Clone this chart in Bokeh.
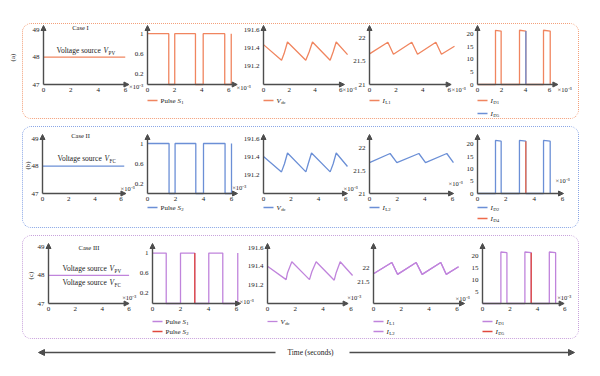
import math
from bokeh.plotting import figure
from bokeh.models import Label, Arrow, NormalHead, FixedTicker, Range1d, Row, Column
from bokeh.embed import file_html
from bokeh.resources import INLINE

# ---------------- values (time in units of 1e-3 s) ----------------
time_ticks = [0, 2, 4, 6]

# Case I
c1_src_t = [0.0, 5.98]
c1_src_v = [48.0, 48.0]
c1_s1_t = [0.0, 1.57, 1.57, 2.01, 2.01, 3.54, 3.54, 4.11, 4.11, 5.70, 5.70, 6.18, 6.18]
c1_s1_v = [1, 1, 0, 0, 1, 1, 0, 0, 1, 1, 0, 0, 1]
c1_vdc_t = [0.0, 1.40, 1.60, 1.86, 3.28, 3.54, 3.80, 5.17, 5.40, 5.64, 6.52]
c1_vdc_v = [191.436, 191.265, 191.338, 191.465, 191.265, 191.356, 191.465, 191.265, 191.356, 191.465, 191.327]
c1_il1_t = [0.0, 1.38, 1.80, 3.18, 3.61, 4.99, 5.41, 6.39]
c1_il1_v = [21.664, 21.918, 21.657, 21.918, 21.657, 21.918, 21.657, 21.830]
c1_id1_t = [0.0, 1.50, 1.50, 1.97, 1.97, 3.50, 3.50, 4.03, 4.03, 5.50, 5.50, 6.06, 6.06]
c1_id1_v = [0, 0, 21.6, 21.3, 0, 0, 21.6, 21.3, 0, 0, 21.6, 21.3, 0]
c1_id5_t = [4.03, 4.03]
c1_id5_v = [21.3, 0]

# Case II
c2_src_t = [0.0, 6.24]
c2_src_v = [48.0, 48.0]
c2_s2_t = [0.0, 1.54, 1.54, 1.97, 1.97, 3.45, 3.45, 4.00, 4.00, 5.54, 5.54, 6.00, 6.00]
c2_s2_v = [1, 1, 0, 0, 1, 1, 0, 0, 1, 1, 0, 0, 1]
c2_vdc_t = [0.0, 1.31, 1.53, 1.75, 3.09, 3.26, 3.50, 4.86, 5.08, 5.30, 6.12]
c2_vdc_v = [191.41, 191.24, 191.33, 191.45, 191.24, 191.33, 191.45, 191.24, 191.33, 191.45, 191.30]
c2_il2_t = [0.0, 1.49, 1.98, 3.57, 4.05, 5.59, 6.07]
c2_il2_v = [21.687, 21.888, 21.687, 21.888, 21.687, 21.888, 21.687]
c2_id2_t = [0.0, 1.27, 1.27, 1.67, 1.67, 2.96, 2.96, 3.41, 3.41, 4.66, 4.66, 5.13, 5.13]
c2_id2_v = [0, 0, 21.6, 21.3, 0, 0, 21.6, 21.3, 0, 0, 21.6, 21.3, 0]
c2_id4_t = [3.41, 3.41]
c2_id4_v = [21.3, 0]

# Case III
c3_src_t = [0.0, 6.0]
c3_src_v = [48.0, 48.0]
c3_s1_t = [0.0, 0.98, 0.98, 2.00, 2.00, 3.02, 3.02, 4.02, 4.02, 5.02, 5.02, 6.09, 6.09]
c3_s1_v = [1, 1, 0, 0, 1, 1, 0, 0, 1, 1, 0, 0, 1]
c3_s2_t = [3.02, 3.02]
c3_s2_v = [1, 0]
c3_vdc_t = [0.0, 1.34, 1.44, 1.75, 3.02, 3.19, 3.50, 4.80, 4.94, 5.23, 6.12]
c3_vdc_v = [191.40, 191.256, 191.33, 191.447, 191.256, 191.34, 191.447, 191.25, 191.33, 191.447, 191.30]
c3_il1_t = [0.0, 1.32, 1.73, 3.07, 3.50, 4.84, 5.23, 6.12]
c3_il1_v = [21.81, 22.21, 21.79, 22.21, 21.79, 22.21, 21.79, 22.06]
c3_il2_t = [0.0, 1.32, 1.73, 3.07, 3.50, 4.84, 5.23, 6.12]
c3_il2_v = [21.81, 22.21, 21.79, 22.21, 21.79, 22.21, 21.79, 22.06]
c3_id1_t = [0.0, 1.34, 1.34, 1.78, 1.78, 3.09, 3.09, 3.55, 3.55, 4.87, 4.87, 5.33, 5.33]
c3_id1_v = [0, 0, 21.8, 21.5, 0, 0, 21.8, 21.5, 0, 0, 21.8, 21.5, 0]
c3_id5_t = [3.55, 3.55]
c3_id5_v = [21.5, 0]

# tick values / labels
src_ticks = [47, 48, 49]
src_labels = ["47", "48", "49"]
pulse_ticks = [0.2, 0.6, 1.0]
pulse_labels = ["0.2", "0.6", "1"]
vdc_ticks = [191.2, 191.4, 191.6]
vdc_labels = ["191.2", "191.4", "191.6"]
il_ticks = [21, 21.5, 22]
il_labels = ["21", "21.5", "22"]
il3_ticks = [21.5, 22]
il3_labels = ["21.5", "22"]
id_ticks = [0, 5, 10, 15, 20]
id_labels = ["0", "5", "10", "15", "20"]
id3_ticks = [5, 10, 15, 20]
id3_labels = ["5", "10", "15", "20"]

# ---------------- styling ----------------
SERIF = "Liberation Serif"
AX = "#4d4d4d"
TXT = "#222222"
ORANGE = "#f0855f"
BLUE = "#6b8fd6"
PURPLE = "#c084dc"
RED = "#e0483e"
ORED = "#ee6a4a"
BOX = ["#f4a07a", "#8aa6e6", "#c8a2dc"]

W_R = {' ': 250, 'P': 556, 'u': 500, 'l': 278, 's': 389, 'e': 444, 'V': 722, 'o': 500,
       't': 278, 'a': 444, 'g': 500, 'r': 333, 'c': 444, 'C': 667, 'F': 556, 'I': 333,
       'L': 611, 'D': 722, 'S': 556, 'd': 500, '.': 250, 'i': 278, 'n': 500}
W_I = {'V': 611, 'S': 500, 'I': 333}


def tw(txt, size, italic=False):
    tot = 0
    for ch in txt:
        if italic and ch in W_I:
            tot += W_I[ch]
        else:
            tot += W_R.get(ch, 500)
    return tot * size / 1000.0


# page-pixel layout of the three boxed rows (positions, not data)
ROWS = [
    dict(ctop=24, cbot=118, ftop=25, fbot=84, leg=[100, 113]),
    dict(ctop=127, cbot=227, ftop=134, fbot=193, leg=[207, 218]),
    dict(ctop=236, cbot=338, ftop=243, fbot=303, leg=[321, 331]),
]

GEOM = [
    [dict(x0=43, sx=13.67, xarr=6.25, fl=23, fr=148, mult=(128.5, 85.5)),
     dict(x0=147, sx=13.55, xarr=6.62, fl=133, fr=255, mult=(236, 87)),
     dict(x0=263, sx=12.89, xarr=6.28, fl=241, fr=361, mult=(342, 89)),
     dict(x0=369, sx=13.3, xarr=6.14, fl=351, fr=470, mult=(451, 89)),
     dict(x0=477, sx=12.0, xarr=6.7, fl=463, fr=578, mult=(557, 89))],
    [dict(x0=42, sx=13.1, xarr=6.37, fl=23, fr=139, mult=(120, 187.5)),
     dict(x0=147, sx=14.0, xarr=6.43, fl=133, fr=251, mult=(231.7, 186.7)),
     dict(x0=263, sx=13.72, xarr=6.12, fl=241, fr=362, mult=(343, 188)),
     dict(x0=369, sx=13.83, xarr=6.08, fl=351, fr=467, mult=(448, 183)),
     dict(x0=477, sx=14.17, xarr=6.07, fl=463, fr=578, mult=(555, 180))],
    [dict(x0=48, sx=13.43, xarr=6.0, fl=23, fr=141, mult=(121.7, 297)),
     dict(x0=152, sx=14.0, xarr=6.29, fl=137, fr=258, mult=(239, 300.7)),
     dict(x0=267, sx=13.9, xarr=5.8, fl=245, fr=366, mult=(346.7, 296.7)),
     dict(x0=373, sx=13.9, xarr=6.55, fl=355, fr=474, mult=(455, 298)),
     dict(x0=482, sx=13.72, xarr=5.95, fl=467, fr=578, mult=(556.7, 297))],
]

YR = [
    [(47, 49.15), (0, 1.16), (191.0, 191.645), (21, 22.28), (0, 23.5)],
    [(47, 49.15), (0, 1.18), (191.0, 191.655), (21, 22.31), (0, 24.0)],
    [(47, 49.14), (0, 1.19), (191.0, 191.643), (20.75, 22.89), (0, 25.4)],
]


class Panel:
    def __init__(self, g, r, yr, xticks, yticks, ylabels, margin_left):
        self.g, self.r = g, r
        self.W = int(round(g["fr"] - g["fl"]))
        self.H = r["cbot"] - r["ctop"]
        self.x0, self.sx = g["x0"], g["sx"]
        self.ylo, yhi = yr
        fh = r["fbot"] - r["ftop"]
        self.sy = fh / (yhi - self.ylo)
        self.fbot = r["fbot"]
        xs = -(self.x0 - g["fl"]) / self.sx
        xe = (g["fl"] + self.W - self.x0) / self.sx
        ys = self.ylo - (r["cbot"] - r["fbot"]) / self.sy
        ye = yhi + (r["ftop"] - r["ctop"]) / self.sy
        p = figure(width=self.W, height=self.H,
                   x_range=Range1d(xs, xe), y_range=Range1d(ys, ye),
                   output_backend="svg", toolbar_location=None, min_border=0,
                   background_fill_color=None, border_fill_color=None,
                   outline_line_color=None, margin=(0, 0, 0, margin_left))
        p.xgrid.visible = False
        p.ygrid.visible = False
        for ax in (p.xaxis[0], p.yaxis[0]):
            ax.axis_line_color = None
            ax.major_tick_line_color = None
            ax.minor_tick_line_color = None
            ax.major_tick_in = 0
            ax.major_tick_out = 0
            ax.minor_tick_in = 0
            ax.minor_tick_out = 0
            ax.major_label_text_font = SERIF
            ax.major_label_text_font_size = "7px"
            ax.major_label_text_color = TXT
        p.xaxis[0].fixed_location = self.ylo
        p.yaxis[0].fixed_location = 0
        p.xaxis[0].major_label_standoff = 3
        p.yaxis[0].major_label_standoff = 4
        p.xaxis[0].ticker = FixedTicker(ticks=xticks)
        p.yaxis[0].ticker = FixedTicker(ticks=yticks)
        p.yaxis[0].major_label_overrides = {t: l for t, l in zip(yticks, ylabels)}
        head = dict(size=5, fill_color=AX, line_color=AX, line_width=1)
        p.add_layout(Arrow(x_start=0, y_start=self.ylo, x_end=g["xarr"], y_end=self.ylo,
                           end=NormalHead(**head), line_color=AX, line_width=1.4))
        p.add_layout(Arrow(x_start=0, y_start=self.ylo, x_end=0, y_end=yhi,
                           end=NormalHead(**head), line_color=AX, line_width=1.4))
        self.p = p
        mx, my = g["mult"]
        self.text(mx, my, "×10⁻³", 6.5)

    def dx(self, px):
        return (px - self.x0) / self.sx

    def dy(self, py):
        return self.ylo + (self.fbot - py) / self.sy

    def text(self, px, py, txt, size, italic=False, align="left", color=TXT, angle=0):
        self.p.add_layout(Label(x=self.dx(px), y=self.dy(py), text=txt, text_font=SERIF,
                                text_font_size=f"{size}px",
                                text_font_style="italic" if italic else "normal",
                                text_align=align, text_baseline="middle",
                                text_color=color, angle=angle))

    def rich(self, px, py, parts, size=7.0, color=TXT):
        x = px
        for txt, kind in parts:
            if kind == "s":
                fs = round(size * 0.68, 1)
                self.text(x + 0.4, py + size * 0.3, txt, fs, color=color)
                x += tw(txt, fs) + 0.4
            else:
                it = kind == "i"
                self.text(x, py, txt, size, italic=it, color=color)
                x += tw(txt, size, it)

    def line(self, t, v, color):
        self.p.line(t, v, line_color=color, line_width=1.3)

    def legend(self, entries):
        x0 = self.x0
        for i, (color, parts) in enumerate(entries):
            y = self.r["leg"][i]
            self.p.add_layout(Arrow(x_start=self.dx(x0), y_start=self.dy(y),
                                    x_end=self.dx(x0 + 10), y_end=self.dy(y),
                                    start=None, end=None, line_color=color, line_width=1.3))
            self.rich(x0 + 13, y, parts, 7.0)


def make_row(ri, content):
    r = ROWS[ri]
    panels = []
    prev_right = 23
    for pi in range(5):
        g = GEOM[ri][pi]
        yt, yl, series, leg = content[pi]
        ml = int(round(g["fl"] - prev_right))
        pan = Panel(g, r, YR[ri][pi], time_ticks, yt, yl, ml)
        for t, v, c in series:
            pan.line(t, v, c)
        if leg:
            pan.legend(leg)
        panels.append(pan)
        prev_right = g["fl"] + pan.W
    return panels


S_PULSE = lambda k: [("Pulse ", "n"), ("S", "i"), (k, "s")]
S_VDC = [("V", "i"), ("dc", "s")]
S_I = lambda k: [("I", "i"), (k, "s")]

row1 = make_row(0, [
    (src_ticks, src_labels, [(c1_src_t, c1_src_v, ORANGE)], None),
    (pulse_ticks, pulse_labels, [(c1_s1_t, c1_s1_v, ORANGE)], [(ORANGE, S_PULSE("1"))]),
    (vdc_ticks, vdc_labels, [(c1_vdc_t, c1_vdc_v, ORANGE)], [(ORANGE, S_VDC)]),
    (il_ticks, il_labels, [(c1_il1_t, c1_il1_v, ORANGE)], [(ORANGE, S_I("L1"))]),
    (id_ticks, id_labels, [(c1_id1_t, c1_id1_v, ORANGE), (c1_id5_t, c1_id5_v, BLUE)],
     [(ORANGE, S_I("D1")), (BLUE, S_I("D5"))]),
])
row2 = make_row(1, [
    (src_ticks, src_labels, [(c2_src_t, c2_src_v, BLUE)], None),
    (pulse_ticks, pulse_labels, [(c2_s2_t, c2_s2_v, BLUE)], [(BLUE, S_PULSE("2"))]),
    (vdc_ticks, vdc_labels, [(c2_vdc_t, c2_vdc_v, BLUE)], [(BLUE, S_VDC)]),
    (il_ticks, il_labels, [(c2_il2_t, c2_il2_v, BLUE)], [(BLUE, S_I("L2"))]),
    (id_ticks, id_labels, [(c2_id2_t, c2_id2_v, BLUE), (c2_id4_t, c2_id4_v, ORED)],
     [(BLUE, S_I("D2")), (ORED, S_I("D4"))]),
])
row3 = make_row(2, [
    (src_ticks, src_labels, [(c3_src_t, c3_src_v, PURPLE)], None),
    (pulse_ticks, pulse_labels, [(c3_s1_t, c3_s1_v, PURPLE), (c3_s2_t, c3_s2_v, RED)],
     [(PURPLE, S_PULSE("1")), (RED, S_PULSE("2"))]),
    (vdc_ticks, vdc_labels, [(c3_vdc_t, c3_vdc_v, PURPLE)], [(PURPLE, S_VDC)]),
    (il3_ticks, il3_labels, [(c3_il1_t, c3_il1_v, PURPLE), (c3_il2_t, c3_il2_v, PURPLE)],
     [(PURPLE, S_I("L1")), (PURPLE, S_I("L2"))]),
    (id3_ticks, id3_labels, [(c3_id1_t, c3_id1_v, PURPLE), (c3_id5_t, c3_id5_v, RED)],
     [(PURPLE, S_I("D1")), (RED, S_I("D5"))]),
])

# first-panel texts
VS_PV = [("Voltage source ", "n"), ("V", "i"), ("PV", "s")]
VS_FC = [("Voltage source ", "n"), ("V", "i"), ("FC", "s")]
row1[0].text(80, 27, "Case I", 6.5, align="center")
row1[0].rich(56, 50, VS_PV, 7.5)
row2[0].text(80, 135, "Case II", 6.5, align="center")
row2[0].rich(57, 158, VS_FC, 7.5)
row2[0].text(27, 165, "(b)", 7, align="center", angle=math.pi / 2)
row3[0].text(88.5, 247, "Case III", 6.5, align="center")
row3[0].rich(62, 268, VS_PV, 7.5)
row3[0].rich(62, 282, VS_FC, 7.5)
row3[0].text(30, 275, "(c)", 7, align="center", angle=math.pi / 2)


def box(panels, ci, margin):
    return Row(children=[f.p for f in panels], spacing=0, margin=margin,
               styles={"border": f"1px dotted {BOX[ci]}", "border-radius": "9px"})


# label (a) sits outside the first box
sp = figure(width=14, height=96, x_range=Range1d(0, 14), y_range=Range1d(0, 96),
            x_axis_type=None, y_axis_type=None, output_backend="svg", toolbar_location=None,
            min_border=0, background_fill_color=None, border_fill_color=None,
            outline_line_color=None)
sp.add_layout(Label(x=4, y=62, text="(a)", angle=math.pi / 2, text_align="center",
                    text_baseline="middle", text_font=SERIF, text_font_size="7px",
                    text_color=TXT))

box1 = box(row1, 0, (0, 0, 0, 0))
box2 = box(row2, 1, (7, 0, 0, 14))
box3 = box(row3, 2, (7, 0, 0, 14))
top = Row(children=[sp, box1], spacing=0, margin=(15, 0, 0, 0))

tf = figure(width=558, height=20, x_range=Range1d(22, 580), y_range=Range1d(0, 20),
            x_axis_type=None, y_axis_type=None, output_backend="svg", toolbar_location=None,
            min_border=0, background_fill_color=None, border_fill_color=None,
            outline_line_color=None, margin=(3, 0, 0, 14))
th = dict(size=6, fill_color=AX, line_color=AX, line_width=1)
tf.add_layout(Arrow(x_start=275, y_start=10, x_end=38, y_end=10, end=NormalHead(**th),
                    line_color=AX, line_width=1.5))
tf.add_layout(Arrow(x_start=349, y_start=10, x_end=574, y_end=10, end=NormalHead(**th),
                    line_color=AX, line_width=1.5))
tf.add_layout(Label(x=310, y=10, text="Time (seconds)", text_align="center",
                    text_baseline="middle", text_font=SERIF, text_font_size="7.5px",
                    text_color=TXT))

layout = Column(children=[top, box2, box3, tf], spacing=0, margin=(8, 0, 0, 8))

open("out.html", "w").write(file_html(layout, INLINE))
